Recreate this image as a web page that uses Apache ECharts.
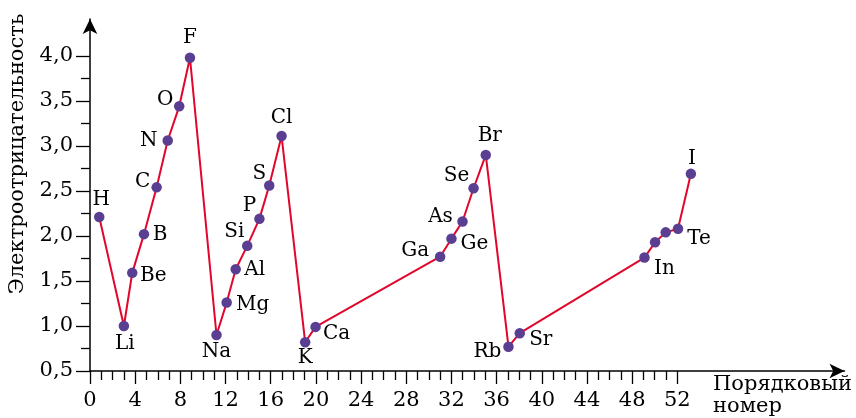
<!DOCTYPE html>
<html>
<head>
<meta charset="utf-8">
<script src="https://cdn.jsdelivr.net/npm/echarts@6/dist/echarts.min.js"></script>
<style>
html,body{margin:0;padding:0;background:#fff;}
#chart{width:856px;height:418px;}
</style>
</head>
<body>
<div id="chart"></div>
<script>
// ---- data ----
var elements = ['H','Li','Be','B','C','N','O','F','Na','Mg','Al','Si','P','S','Cl','K','Ca','Ga','Ge','As','Se','Br','Rb','Sr','In','Sn','Sb','Te','I'];
var atomicNumber = [0.82,3,3.74,4.78,5.9,6.88,7.9,8.85,11.2,12.1,12.9,13.92,15,15.87,16.96,19.05,19.97,31,32,32.98,33.96,35.04,37.05,38.05,49.09,50.03,50.97,52.06,53.2];
var electronegativity = [2.21,1.0,1.59,2.02,2.54,3.06,3.44,3.98,0.9,1.26,1.63,1.89,2.19,2.56,3.11,0.82,0.99,1.77,1.97,2.16,2.53,2.9,0.77,0.92,1.76,1.93,2.04,2.08,2.69];
var xMajorTicks = [0,4,8,12,16,20,24,28,32,36,40,44,48,52];
var yMajorTicks = [0.5,1.0,1.5,2.0,2.5,3.0,3.5,4.0];
var yTitle = 'Электроотрицательность';
var xTitle = 'Порядковый\nномер';

// ---- label placement (style only): label centre relative to marker centre ----
var labelOffsets = {
  H:[2,-17], Li:[1,18], Be:[21,3], B:[16,1], C:[-14,-6], N:[-19,0], O:[-14,-7], F:[0,-20],
  Na:[0,17], Mg:[26,2], Al:[19,1], Si:[-13,-14], P:[-10,-13], S:[-10,-12], Cl:[0,-18],
  K:[0,16], Ca:[21,7], Ga:[-25,-6], Ge:[23,5], As:[-22,-5], Se:[-17,-12], Br:[4,-19],
  Rb:[-21,5], Sr:[21,7], In:[20,11], Te:[21,10], I:[1,-15]
};

var xMinor = [];
for (var i = 0; i <= 52; i++) if (i % 4 !== 0) xMinor.push(i);
var yMinor = [];
for (var j = 0; j < yMajorTicks.length - 1; j++) yMinor.push(yMajorTicks[j] + 0.25);

var FONT = '"DejaVu Serif", serif';
var INK = '#000';
var SYM = 10.5;

var seriesData = elements.map(function (n, k) {
  var off = labelOffsets[n];
  return {
    name: n,
    value: [atomicNumber[k], electronegativity[k]],
    label: off ? {
      show: true,
      position: [SYM / 2 + off[0], SYM / 2 + off[1]],
      align: 'center', verticalAlign: 'middle'
    } : { show: false }
  };
});

var chart = echarts.init(document.getElementById('chart'), null, {renderer: 'canvas'});
var XMAX = 66.8, YMAX = 4.41;
chart.setOption({
  animation: false,
  backgroundColor: '#fff',
  grid: { left: 90, right: 11.5, top: 19, bottom: 47, containLabel: false, outerBoundsMode: 'none' },
  xAxis: [
    {
      type: 'value', min: 0, max: XMAX, position: 'bottom',
      axisLine: { show: true, lineStyle: { color: INK, width: 1.5 }, symbol: ['none', 'arrow'], symbolSize: [11, 15] },
      axisTick: { show: true, length: 13, lineStyle: { color: INK, width: 1.3 }, customValues: xMajorTicks },
      axisLabel: { show: true, customValues: xMajorTicks, margin: 19, fontFamily: FONT, fontSize: 21, color: INK },
      splitLine: { show: false }
    },
    {
      type: 'value', min: 0, max: XMAX, position: 'bottom',
      axisLine: { show: false },
      axisTick: { show: true, length: 9, lineStyle: { color: INK, width: 1.3 }, customValues: xMinor },
      axisLabel: { show: false },
      splitLine: { show: false }
    }
  ],
  yAxis: [
    {
      type: 'value', min: 0.5, max: YMAX, position: 'left',
      axisLine: { show: true, lineStyle: { color: INK, width: 1.5 }, symbol: ['none', 'arrow'], symbolSize: [11, 15] },
      axisTick: { show: true, length: 14, lineStyle: { color: INK, width: 1.3 }, customValues: yMajorTicks },
      axisLabel: {
        show: true, customValues: yMajorTicks, margin: 17, fontFamily: FONT, fontSize: 21, color: INK,
        formatter: function (v) { return v.toFixed(1).replace('.', ','); }
      },
      splitLine: { show: false }
    },
    {
      type: 'value', min: 0.5, max: YMAX, position: 'left',
      axisLine: { show: false },
      axisTick: { show: true, length: 9, lineStyle: { color: INK, width: 1.3 }, customValues: yMinor },
      axisLabel: { show: false },
      splitLine: { show: false }
    }
  ],
  series: [{
    type: 'line',
    xAxisIndex: 0, yAxisIndex: 0,
    data: seriesData,
    symbol: 'circle',
    symbolSize: SYM,
    itemStyle: { color: '#5a3e92' },
    lineStyle: { color: '#e2062c', width: 2 },
    label: { fontFamily: FONT, fontSize: 20, color: INK, formatter: '{b}' },
    labelLayout: { hideOverlap: false }
  }],
  graphic: [
    {
      type: 'text', x: 18, y: 154, rotation: Math.PI / 2,
      style: { text: yTitle, font: '21px ' + FONT, fill: INK, align: 'center', verticalAlign: 'middle', textAlign: 'center', textVerticalAlign: 'middle' }
    },
    {
      type: 'text', x: 713, y: 374,
      style: { text: xTitle, font: '21px ' + FONT, fill: INK, lineHeight: 22, align: 'left', verticalAlign: 'top', textAlign: 'left', textVerticalAlign: 'top' }
    }
  ]
});
</script>
</body>
</html>
